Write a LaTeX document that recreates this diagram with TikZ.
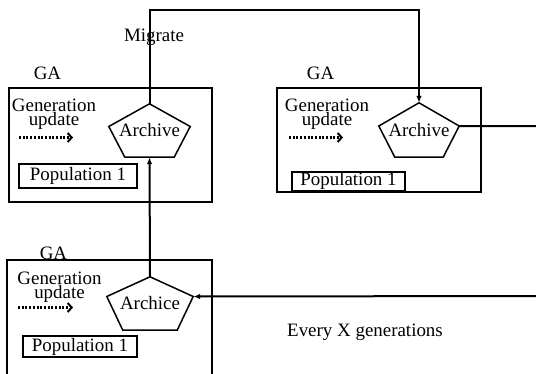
\documentclass[tikz,border=0pt]{standalone}
\usepackage{fontspec}
\setmainfont{Liberation Serif}
\usepackage{tikz}
\usetikzlibrary{arrows.meta,positioning,calc}
\tikzset{
  gabox/.style={draw,line width=2bp,minimum width=204bp,minimum height=104bp,inner sep=0pt},
  popbox/.style={draw,line width=2bp,minimum width=116bp,minimum height=21bp,inner sep=0pt},
  archnode/.style={minimum width=82bp,minimum height=53bp,inner sep=0pt},
  pent/.style={line width=1.5bp},
  gentext/.style={align=center,inner sep=0pt,font=\fontsize{19}{14}\selectfont},
  plain/.style={inner sep=0pt},
  link/.style={line width=2bp},
  linkarr/.style={link,-{Latex[length=7bp,width=5.5bp]}},
  dotarr/.style={line width=2.2bp,dash pattern=on 2bp off 1.7bp,-{Straight Barb[length=4bp,width=9bp,line width=2bp]}}
}

\begin{document}
\begin{tikzpicture}[x=1bp,y=-1bp,font=\fontsize{19}{22}\selectfont]
  \path[use as bounding box,clip] (0,0) rectangle (536,373);
  % island 1 (top left)
  \node[gabox,minimum width=203bp,minimum height=114bp] (ga1) at (110.5,145) {};
  \node[plain] (ga1l) at (47.5,73) {GA};
  \node[gentext] (gen1) at (54,114.5) {Generation\\update};
  \coordinate (d1a) at (19,137.5); \coordinate (d1b) at (73,137.5);
  \draw[dotarr] (d1a) -- (d1b);
  \node[archnode,minimum width=81bp] (arch1) at (149.5,130.5) {Archive};
  \node[popbox,minimum width=118bp,minimum height=24bp] (pop1) at (78,176) {Population 1};
  % island 2 (top right)
  \node[gabox] (ga2) at (379,140) {};
  \node[plain] (ga2l) at (320.5,73) {GA};
  \node[gentext] (gen2) at (327,114.5) {Generation\\update};
  \coordinate (d2a) at (289,137.5); \coordinate (d2b) at (343,137.5);
  \draw[dotarr] (d2a) -- (d2b);
  \node[archnode,minimum width=80bp,minimum height=54bp] (arch2) at (419,130) {Archive};
  \node[popbox,minimum width=113bp,minimum height=19bp] (pop2) at (348.5,181) {Population 1};
  % island 3 (bottom left)
  \node[gabox,minimum width=205bp,minimum height=124bp] (ga3) at (109.5,322) {};
  \node[plain] (ga3l) at (53.5,253) {GA};
  \node[gentext] (gen3) at (59.5,287) {Generation\\update};
  \coordinate (d3a) at (18,307.5); \coordinate (d3b) at (73,307.5);
  \draw[dotarr] (d3a) -- (d3b);
  \node[archnode,minimum width=86bp] (arch3) at (150,303.5) {Archice};
  \node[popbox,minimum width=114bp] (pop3) at (80,346.5) {Population 1};
  % pentagons round the archives
  \foreach \a/\s in {arch1/4bp,arch2/4bp,arch3/7bp}
    \draw[pent] (\a.north) -- ([yshift=\s]\a.east) -- ([xshift=-16bp]\a.south east)
      -- ([xshift=16bp]\a.south west) -- ([yshift=\s]\a.west) -- cycle;
  % migration ring
  \coordinate (outA) at (540,126);
  \coordinate (inB) at (540,296);
  \draw[linkarr] (arch1.north) -- ++(0,-94) -| (arch2.north);
  \draw[link] ([yshift=4bp]arch2.east) -- (outA);
  \draw[linkarr] (inB) -- ([yshift=7bp]arch3.east);
  \draw[linkarr] (arch3.north) -- (arch1.south);
  \node[plain] (mig) at (154,37) {Migrate};
  \node[plain] (every) at (365,332) {Every X generations};
\end{tikzpicture}
\end{document}
